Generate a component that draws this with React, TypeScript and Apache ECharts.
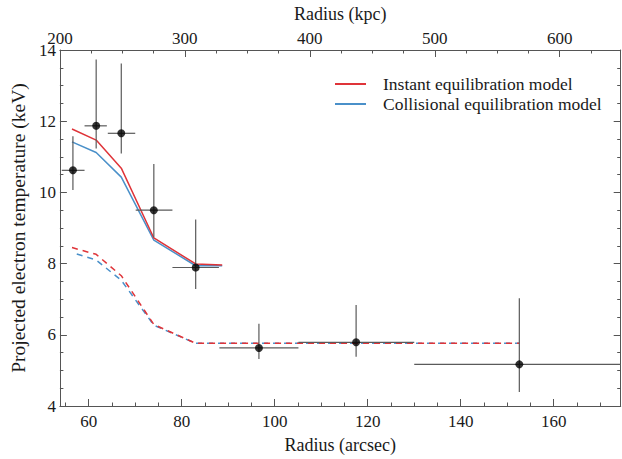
import React, { useEffect, useRef } from "react";
import * as echarts from "echarts";

// Observed data (radius in arcsec, temperature in keV)
const binCenters = [56.6, 61.6, 67.0, 74.0, 83.0, 96.6, 117.5, 152.6];
const temps = [10.62, 11.87, 11.66, 9.5, 7.89, 5.63, 5.79, 5.17];
const tempLow = [10.07, 11.23, 11.09, 8.74, 7.29, 5.32, 5.38, 4.39];
const tempHigh = [11.58, 13.73, 13.62, 10.8, 9.24, 6.31, 6.84, 7.03];
const binLow = [54.2, 59.1, 64.1, 70.1, 78.0, 88.1, 105.1, 130.0];
const binHigh = [59.1, 63.9, 70.0, 78.0, 88.0, 105.1, 130.0, 176.0];

// Model curves
const solidRadii = [56.4, 61.6, 67.0, 74.0, 83.0, 88.7];
const instantSolid = [11.78, 11.47, 10.68, 8.72, 7.99, 7.96];
const collisionalSolid = [11.42, 11.12, 10.43, 8.66, 7.94, 7.94];
const dashedRadii = [56.4, 61.6, 67.0, 74.0, 83.0, 96.6, 117.5, 152.6];
const instantDashed = [8.45, 8.26, 7.66, 6.29, 5.76, 5.76, 5.76, 5.76];
const collisionalDashed = [8.31, 8.1, 7.53, 6.27, 5.76, 5.76, 5.76, 5.76];

const INSTANT = "Instant equilibration model";
const COLLISIONAL = "Collisional equilibration model";

const FONT = '"Liberation Serif", "Times New Roman", "DejaVu Serif", serif';
const AXIS_COLOR = "#555";
const TEXT_COLOR = "#1a1a1a";
const RED = "#df3439";
const BLUE = "#4a90c9";

export default function App() {
  const ref = useRef<HTMLDivElement>(null);

  useEffect(() => {
    document.body.style.margin = "0";
    if (!ref.current) return;
    const chart = echarts.init(ref.current, undefined, { renderer: "svg" });

    const zip = (xs: number[], ys: number[]) => xs.map((x, i) => [x, ys[i]]);
    const errData = binCenters.map((x, i) => [x, temps[i], binLow[i], binHigh[i], tempLow[i], tempHigh[i]]);

    const axisCommon = {
      axisLine: { show: true, lineStyle: { color: AXIS_COLOR, width: 1 } },
      axisTick: { show: true, inside: true, length: 7, lineStyle: { color: AXIS_COLOR, width: 1 } },
      minorTick: { show: true, splitNumber: 4, length: 3.5, lineStyle: { color: AXIS_COLOR, width: 1 } },
      splitLine: { show: false },
      minorSplitLine: { show: false },
    };
    const labelStyle = { color: TEXT_COLOR, fontFamily: FONT, fontSize: 17 };
    const nameStyle = { color: TEXT_COLOR, fontFamily: FONT, fontSize: 18 };

    chart.setOption({
      animation: false,
      backgroundColor: "#fff",
      textStyle: { fontFamily: FONT },
      grid: { left: 55, right: 1.3, top: 48.5, bottom: 46.5, containLabel: false },
      legend: {
        orient: "vertical",
        left: 330,
        top: 69,
        itemWidth: 31,
        itemHeight: 2,
        itemGap: 0,
        icon: "rect",
        data: [INSTANT, COLLISIONAL],
        textStyle: { color: TEXT_COLOR, fontFamily: FONT, fontSize: 17.5, lineHeight: 20, padding: [0, 0, 0, 12] },
      },
      xAxis: [
        {
          type: "value",
          position: "bottom",
          min: 53.8,
          max: 174.4,
          splitNumber: 6,
          ...axisCommon,
          axisLabel: { ...labelStyle, margin: 7, showMinLabel: false, showMaxLabel: false },
          name: "Radius (arcsec)",
          nameLocation: "middle",
          nameGap: 30,
          nameTextStyle: nameStyle,
        },
        {
          type: "value",
          position: "top",
          min: 200,
          max: 648.8,
          splitNumber: 5,
          ...axisCommon,
          axisLabel: { ...labelStyle, margin: 3, showMinLabel: true, showMaxLabel: false },
          name: "Radius (kpc)",
          nameLocation: "middle",
          nameGap: 27,
          nameTextStyle: nameStyle,
        },
      ],
      yAxis: [
        {
          type: "value",
          position: "left",
          min: 4,
          max: 14,
          interval: 2,
          ...axisCommon,
          axisLabel: { ...labelStyle, margin: 4 },
          name: "Projected electron temperature (keV)",
          nameLocation: "middle",
          nameGap: 27,
          nameTextStyle: { ...nameStyle, fontSize: 19.5 },
        },
        {
          type: "value",
          position: "right",
          min: 4,
          max: 14,
          interval: 2,
          ...axisCommon,
          axisLabel: { show: false },
        },
      ],
      series: [
        {
          name: "errors",
          type: "custom",
          xAxisIndex: 0,
          yAxisIndex: 0,
          clip: true,
          z: 5,
          encode: { x: [0, 2, 3], y: [1, 4, 5] },
          data: errData,
          renderItem: (params: any, api: any) => {
            const x = api.value(0);
            const y = api.value(1);
            const pL = api.coord([api.value(2), y]);
            const pR = api.coord([api.value(3), y]);
            const pB = api.coord([x, api.value(4)]);
            const pT = api.coord([x, api.value(5)]);
            const style = { stroke: "#5a5a5a", lineWidth: 1.2 };
            return {
              type: "group",
              children: [
                { type: "line", shape: { x1: pL[0], y1: pL[1], x2: pR[0], y2: pR[1] }, style },
                { type: "line", shape: { x1: pB[0], y1: pB[1], x2: pT[0], y2: pT[1] }, style },
              ],
            };
          },
        },
        {
          name: COLLISIONAL,
          type: "line",
          data: zip(solidRadii, collisionalSolid),
          symbol: "none",
          z: 3,
          lineStyle: { color: BLUE, width: 1.5 },
          itemStyle: { color: BLUE },
        },
        {
          name: INSTANT,
          type: "line",
          data: zip(solidRadii, instantSolid),
          symbol: "none",
          z: 4,
          lineStyle: { color: RED, width: 1.5 },
          itemStyle: { color: RED },
        },
        {
          name: COLLISIONAL,
          type: "line",
          data: zip(dashedRadii, collisionalDashed),
          symbol: "none",
          z: 3,
          lineStyle: { color: BLUE, width: 1.5, type: [0, 5, 6, 0] },
          itemStyle: { color: BLUE },
        },
        {
          name: INSTANT,
          type: "line",
          data: zip(dashedRadii, instantDashed),
          symbol: "none",
          z: 4,
          lineStyle: { color: RED, width: 1.5, type: [6, 5] },
          itemStyle: { color: RED },
        },
        {
          name: "data",
          type: "scatter",
          data: zip(binCenters, temps),
          symbol: "circle",
          symbolSize: 8,
          z: 6,
          itemStyle: { color: "#000" },
        },
      ],
    });

    return () => chart.dispose();
  }, []);

  return (
    <div
      ref={ref}
      style={{ position: "fixed", left: 0, top: 0, width: 622, height: 459, background: "#fff" }}
    />
  );
}
